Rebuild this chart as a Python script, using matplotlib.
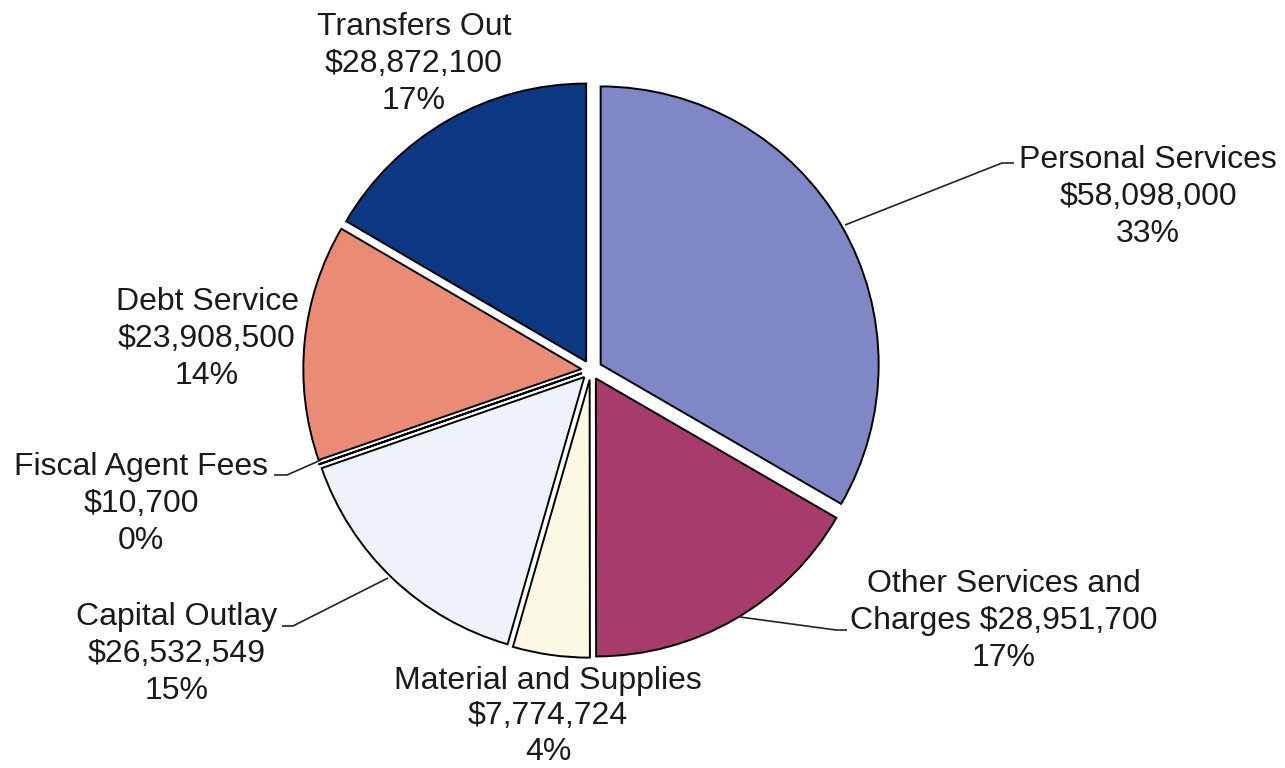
import matplotlib
matplotlib.use("Agg")
import matplotlib.pyplot as plt

plt.rcParams['font.family'] = ['Liberation Sans', 'DejaVu Sans']

# Budget categories (clockwise from 12 o'clock) and amounts in dollars
categories = ["Personal Services", "Other Services and Charges", "Material and Supplies",
              "Capital Outlay", "Fiscal Agent Fees", "Debt Service", "Transfers Out"]
amounts = [58098000, 28951700, 7774724, 26532549, 10700, 23908500, 28872100]
colors = ["#7F87C7", "#A63B6C", "#FBF8E3", "#EDF3F9", "#FFFFFF", "#EA8B75", "#0D3884"]
# Slice offsets as a fraction of the radius
explode = [0.04, 0.035, 0.035, 0.035, 0.035, 0.035, 0.035]

W, H = 1285, 768
RADIUS = 278


def Y(y):
    """Convert a top-down pixel row to axes data coordinates."""
    return H - y


fig = plt.figure(figsize=(W / 100, H / 100), dpi=100)
ax = fig.add_axes([0, 0, 1, 1])

ax.pie(amounts, colors=colors, explode=[e * RADIUS for e in explode],
       startangle=90, counterclock=False,
       radius=RADIUS, center=(591, Y(370)), frame=True,
       wedgeprops=dict(edgecolor="black", linewidth=1.4))

ax.set_xlim(0, W)
ax.set_ylim(0, H)
ax.set_aspect("equal")
ax.axis("off")

total = sum(amounts)
pcts = [round(100 * a / total) for a in amounts]
money = [f"${a:,.0f}" for a in amounts]

# Label lines for each slice: (lines, center x, first baseline y, line gap)
label_lines = [
    ([categories[0], money[0], f"{pcts[0]}%"], 1148, 168, 37),
    (["Other Services and", f"Charges {money[1]}", f"{pcts[1]}%"], 1004, 592, 37),
    ([categories[2], money[2], f"{pcts[2]}%"], 548, 689, 35.5),
    ([categories[3], money[3], f"{pcts[3]}%"], 177, 625, 37),
    ([categories[4], money[4], f"{pcts[4]}%"], 141, 475, 37),
    ([categories[5], money[5], f"{pcts[5]}%"], 207, 310, 37),
    ([categories[6], money[6], f"{pcts[6]}%"], 414, 35, 37),
]

for lines, cx, by, gap in label_lines:
    for i, s in enumerate(lines):
        ax.text(cx, Y(by + i * gap), s, ha="center", va="baseline",
                fontsize=23, color="#1a1a1a")

# Leader lines from labels to their slices
leaders = [
    [(845, 225), (1002, 163), (1014, 163)],
    [(740, 617), (836, 630), (847, 630)],
    [(274, 475), (287, 475), (321, 460)],
    [(282, 626), (293, 626), (388, 578)],
]
for pts in leaders:
    xs = [p[0] for p in pts]
    ys = [Y(p[1]) for p in pts]
    ax.plot(xs, ys, color="#222222", linewidth=1.2, solid_capstyle="butt")

fig.savefig("out.png", dpi=100, facecolor="white")
